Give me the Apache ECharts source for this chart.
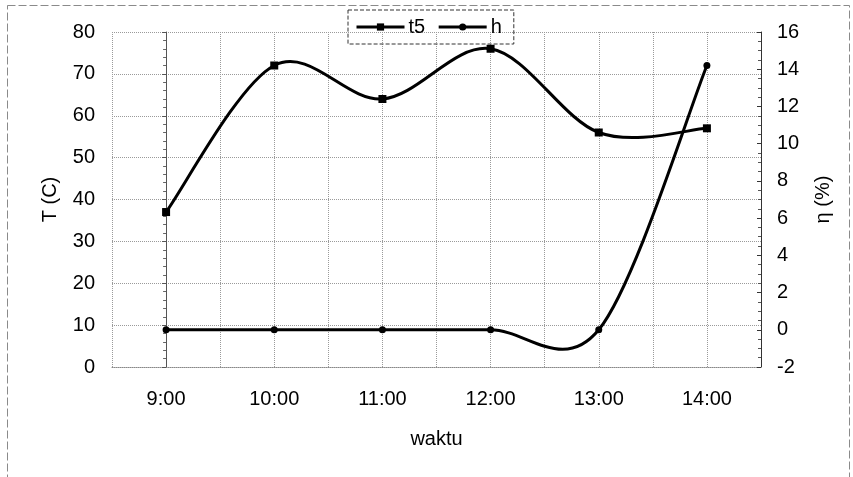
<!DOCTYPE html>
<html>
<head>
<meta charset="utf-8">
<script src="https://cdn.jsdelivr.net/npm/echarts@6/dist/echarts.min.js"></script>
<style>
  html, body { margin: 0; padding: 0; background: #fff; }
  #chart { width: 853px; height: 477px; }
</style>
</head>
<body>
<div id="chart"></div>
<script>
(function(window, echarts){
    'use strict';

    // data
    var times = ['9:00', '10:00', '11:00', '12:00', '13:00', '14:00'];
    var t5 = [37, 72, 64, 76, 56, 57];
    var h = [0, 0, 0, 0, 0, 14.2];

    var FONT = '"Liberation Sans", Arial, sans-serif';

    var pairs = function(values) {
        return values.map(function(v, i) { return [i, v]; });
    };

    // spreadsheet-style smoothing: one bezier per segment, tangents from neighbours
    var smoothSegment = function(values) {
        return function(params, api) {
            var i = params.dataIndex;
            var n = values.length;
            if (i >= n - 1) return null;
            var p = function(j) {
                j = Math.max(0, Math.min(n - 1, j));
                return api.coord([j, values[j]]);
            };
            var p0 = p(i - 1), p1 = p(i), p2 = p(i + 1), p3 = p(i + 2);
            return {
                type: 'bezierCurve',
                shape: {
                    x1: p1[0], y1: p1[1],
                    cpx1: p1[0] + (p2[0] - p0[0]) / 6, cpy1: p1[1] + (p2[1] - p0[1]) / 6,
                    cpx2: p2[0] - (p3[0] - p1[0]) / 6, cpy2: p2[1] - (p3[1] - p1[1]) / 6,
                    x2: p2[0], y2: p2[1]
                },
                style: { fill: null, stroke: '#000', lineWidth: 3 },
                silent: true
            };
        };
    };

    var dotted = { color: '#9a9a9a', type: 'dotted', width: 1 };

    var chart = echarts.init(document.getElementById('chart'));

    chart.setOption({
        animation: false,
        backgroundColor: '#fff',
        textStyle: { fontFamily: FONT, color: '#000' },
        graphic: [{
            type: 'rect',
            shape: { x: 7.5, y: 5.5, width: 842, height: 480 },
            style: { fill: 'none', stroke: '#8a8a8a', lineWidth: 1, lineDash: [8, 3] },
            silent: true
        }],
        grid: { left: 112, right: 92, top: 32, bottom: 110 },
        legend: {
            left: 348,
            top: 10,
            padding: [7, 12, 7, 7],
            itemGap: 12,
            itemWidth: 48,
            itemHeight: 9,
            borderColor: '#333',
            borderWidth: 1,
            borderType: 'dashed',
            lineStyle: { color: '#000', width: 3, opacity: 1 },
            textStyle: { fontFamily: FONT, fontSize: 20, color: '#000', padding: [0, 0, 0, -1] },
            data: ['t5', 'h']
        },
        xAxis: {
            type: 'value',
            min: -0.5,
            max: 5.5,
            interval: 0.5,
            name: 'waktu',
            nameLocation: 'middle',
            nameGap: 62,
            nameTextStyle: { fontFamily: FONT, fontSize: 20, color: '#000' },
            axisLine: { show: true, onZero: false, lineStyle: { color: '#888', type: 'dotted' } },
            axisTick: { show: false },
            axisLabel: {
                fontFamily: FONT, fontSize: 20, color: '#000', margin: 22,
                formatter: function(v) {
                    var r = Math.round(v);
                    return Math.abs(v - r) < 1e-6 && times[r] ? times[r] : '';
                }
            },
            splitLine: { show: true, lineStyle: dotted }
        },
        yAxis: [{
            type: 'value',
            min: 0,
            max: 80,
            interval: 10,
            name: 'T (C)',
            nameLocation: 'middle',
            nameGap: 52,
            nameRotate: 90,
            nameTextStyle: { fontFamily: FONT, fontSize: 20, color: '#000' },
            axisLine: { show: true, lineStyle: { color: '#555', width: 1 } },
            axisTick: { show: true, length: 4, lineStyle: { color: '#555' } },
            minorTick: { show: true, splitNumber: 5, length: 3, lineStyle: { color: '#666' } },
            axisLabel: { fontFamily: FONT, fontSize: 20, color: '#000', margin: 17 },
            splitLine: { show: true, lineStyle: dotted }
        }, {
            type: 'value',
            min: -2,
            max: 16,
            interval: 2,
            name: 'η (%)',
            nameLocation: 'middle',
            nameGap: 52,
            nameRotate: 90,
            nameTextStyle: { fontFamily: FONT, fontSize: 20, color: '#000' },
            axisLine: { show: true, lineStyle: { color: '#333', width: 1 } },
            axisTick: { show: true, inside: true, length: 4, lineStyle: { color: '#333' } },
            minorTick: { show: true, splitNumber: 4, length: 3, lineStyle: { color: '#555' } },
            axisLabel: { fontFamily: FONT, fontSize: 20, color: '#000', margin: 16 },
            splitLine: { show: false }
        }],
        series: [{
            name: 't5-curve',
            type: 'custom',
            yAxisIndex: 0,
            data: pairs(t5),
            renderItem: smoothSegment(t5),
            silent: true,
            z: 1
        }, {
            name: 'h-curve',
            type: 'custom',
            yAxisIndex: 1,
            data: pairs(h),
            renderItem: smoothSegment(h),
            silent: true,
            z: 1
        }, {
            name: 't5',
            type: 'line',
            yAxisIndex: 0,
            data: pairs(t5),
            symbol: 'rect',
            symbolSize: 8,
            itemStyle: { color: '#000' },
            lineStyle: { opacity: 0 },
            z: 3
        }, {
            name: 'h',
            type: 'line',
            yAxisIndex: 1,
            data: pairs(h),
            symbol: 'circle',
            symbolSize: 7,
            itemStyle: { color: '#000' },
            lineStyle: { opacity: 0 },
            z: 3
        }]
    });

})(window, window.echarts);
</script>
</body>
</html>
